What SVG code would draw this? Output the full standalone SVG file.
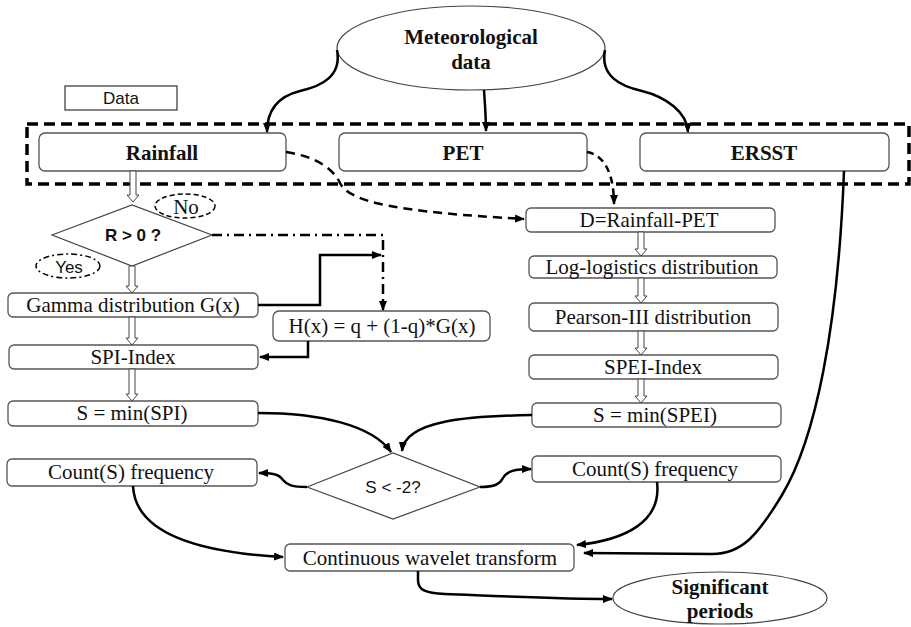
<svg xmlns="http://www.w3.org/2000/svg" width="911" height="627" viewBox="0 0 911 627">
<style>
.box{fill:#fff;stroke:#555;stroke-width:1.3}
.t{font-family:"Liberation Serif","Times New Roman",serif;font-size:21px;fill:#111;text-anchor:middle}
.tb{font-family:"Liberation Serif","Times New Roman",serif;font-size:21px;font-weight:bold;fill:#111;text-anchor:middle}
.ts{font-family:"Liberation Sans",Arial,sans-serif;font-size:17px;fill:#111;text-anchor:middle}
.c{fill:none;stroke:#000;stroke-width:2.5}
.ha{fill:#fff;stroke:#444;stroke-width:1}
.dia{fill:#fff;stroke:#444;stroke-width:1.2}
</style>
<defs>
<marker id="ah" markerUnits="userSpaceOnUse" markerWidth="10" markerHeight="8" refX="9" refY="4" orient="auto">
<path d="M0,0 L10,4 L0,8 z" fill="#000"/>
</marker>
</defs>
<rect width="911" height="627" fill="#fff"/>

<g id="data-label">
<rect x="65" y="86" width="112" height="24" fill="#fff" stroke="#333" stroke-width="1.2"/>
<text class="ts" x="121" y="104">Data</text>
</g>
<g id="data-group">
<rect x="27" y="124" width="882" height="60" fill="none" stroke="#000" stroke-width="3.5" stroke-dasharray="11,6"/>
</g>

<g id="meteo">
<ellipse cx="471" cy="48" rx="134" ry="42" fill="#fff" stroke="#444" stroke-width="1.2"/>
<text class="tb" x="471" y="44">Meteorological</text>
<text class="tb" x="471" y="69">data</text>
</g>
<g id="rainfall">
<rect class="box" x="39" y="133" width="247" height="38" rx="6"/>
<text class="tb" x="162" y="160">Rainfall</text>
</g>
<g id="pet">
<rect class="box" x="339" y="133" width="248" height="38" rx="6"/>
<text class="tb" x="463" y="160">PET</text>
</g>
<g id="ersst">
<rect class="box" x="640" y="133" width="249" height="38" rx="6"/>
<text class="tb" x="764" y="160">ERSST</text>
</g>

<g id="r-gt-0">
<polygon class="dia" points="52,235 132,205 212,235 132,266"/>
<text class="ts" x="133" y="241" font-weight="bold">R &gt; 0 ?</text>
</g>
<g id="no-label">
<ellipse cx="185" cy="206" rx="30" ry="12" fill="#fff" stroke="#000" stroke-width="1.5" stroke-dasharray="5,3"/>
<text class="t" x="186" y="214" font-size="20">No</text>
</g>
<g id="yes-label">
<ellipse cx="68" cy="266" rx="32" ry="12" fill="#fff" stroke="#000" stroke-width="1.5" stroke-dasharray="6,3,2,3"/>
<text class="ts" x="69" y="273" font-size="16">Yes</text>
</g>

<g id="gamma">
<rect class="box" x="8" y="293" width="250" height="24" rx="5"/>
<text class="t" x="133" y="312">Gamma distribution G(x)</text>
</g>
<g id="hx">
<rect class="box" x="273" y="311" width="217" height="30" rx="6"/>
<text class="t" x="382" y="333">H(x) = q + (1-q)*G(x)</text>
</g>
<g id="spi">
<rect class="box" x="9" y="345" width="249" height="24" rx="5"/>
<text class="t" x="133" y="364">SPI-Index</text>
</g>
<g id="smin-spi">
<rect class="box" x="8" y="401" width="250" height="25" rx="5"/>
<text class="t" x="132" y="420">S = min(SPI)</text>
</g>
<g id="count-left">
<rect class="box" x="7" y="459" width="250" height="27" rx="5"/>
<text class="t" x="131" y="479">Count(S) frequency</text>
</g>

<g id="d-box">
<rect class="box" x="526" y="208" width="249" height="24" rx="5"/>
<text class="t" x="649" y="227">D=Rainfall-PET</text>
</g>
<g id="loglogistic">
<rect class="box" x="529" y="256" width="248" height="22" rx="5"/>
<text class="t" x="652" y="274">Log-logistics distribution</text>
</g>
<g id="pearson">
<rect class="box" x="529" y="303" width="249" height="28" rx="5"/>
<text class="t" x="653" y="324">Pearson-III distribution</text>
</g>
<g id="spei">
<rect class="box" x="529" y="355" width="249" height="24" rx="5"/>
<text class="t" x="653" y="374">SPEI-Index</text>
</g>
<g id="smin-spei">
<rect class="box" x="532" y="403" width="249" height="24" rx="5"/>
<text class="t" x="655" y="422">S = min(SPEI)</text>
</g>
<g id="count-right">
<rect class="box" x="532" y="456" width="249" height="26" rx="5"/>
<text class="t" x="655" y="476">Count(S) frequency</text>
</g>

<g id="s-lt-2">
<polygon class="dia" points="307,487 393,453 480,487 393,519"/>
<text class="ts" x="393" y="493">S &lt; -2?</text>
</g>
<g id="cwt">
<rect class="box" x="285" y="544" width="289" height="27" rx="5"/>
<text class="t" x="430" y="565">Continuous wavelet transform</text>
</g>
<g id="significant">
<ellipse cx="720" cy="598" rx="107" ry="26" fill="#fff" stroke="#444" stroke-width="1.2"/>
<text class="tb" x="720" y="594">Significant</text>
<text class="tb" x="720" y="618">periods</text>
</g>

<g id="connectors">
<!-- from meteorological data -->
<path class="c" d="M337,50 C342,76 322,86 300,91 C276,97 267,112 267,132" marker-end="url(#ah)"/>
<path class="c" d="M484,90 C485,105 486,118 486,131" marker-end="url(#ah)"/>
<path class="c" d="M605,50 C600,76 620,86 642,91 C666,97 687,112 688,132" marker-end="url(#ah)"/>
<!-- dashed to D -->
<path class="c" d="M286,152 C318,157 334,170 340,183 C350,203 400,212 524,219" stroke-dasharray="9,6" marker-end="url(#ah)"/>
<path class="c" d="M587,152 C605,155 614,175 614,204" stroke-dasharray="7,5" marker-end="url(#ah)"/>
<!-- hollow arrows left -->
<polygon class="ha" points="130,171 136,171 136,195 139,195 133,202 127,195 130,195"/>
<polygon class="ha" points="129,266 135,266 135,286 138,286 132,293 126,286 129,286"/>
<polygon class="ha" points="129,317 135,317 135,338 138,338 132,345 126,338 129,338"/>
<polygon class="ha" points="129,369 135,369 135,394 138,394 132,401 126,394 129,394"/>
<!-- hollow arrows right -->
<polygon class="ha" points="638,232 644,232 644,249 647,249 641,256 635,249 638,249"/>
<polygon class="ha" points="638,278 644,278 644,296 647,296 641,303 635,296 638,296"/>
<polygon class="ha" points="638,331 644,331 644,348 647,348 641,355 635,348 638,348"/>
<polygon class="ha" points="638,379 644,379 644,396 647,396 641,403 635,396 638,396"/>
<!-- No branch: dash-dot -->
<path class="c" d="M212,235 L383,235 L383,310" stroke-dasharray="10,5,2,5" marker-end="url(#ah)"/>
<!-- Gamma to H -->
<path class="c" d="M258,305 L320,305 L320,255 L381,255" marker-end="url(#ah)"/>
<!-- H to SPI -->
<path class="c" d="M308,341 L308,357 L260,357" marker-end="url(#ah)"/>
<!-- S min to diamond -->
<path class="c" d="M258,413 C320,413 372,425 391,452" marker-end="url(#ah)"/>
<path class="c" d="M532,415 C470,416 405,420 402,451" marker-end="url(#ah)"/>
<!-- diamond to counts -->
<path class="c" d="M307,487 C292,487 287,485 283,480 C279,474 272,473 259,473" marker-end="url(#ah)"/>
<path class="c" d="M480,487 C495,487 500,484 503,478 C507,471 515,469 531,469" marker-end="url(#ah)"/>
<!-- counts to CWT -->
<path class="c" d="M133,486 C135,530 190,552 283,557" marker-end="url(#ah)"/>
<path class="c" d="M657,482 C662,522 625,540 577,545" marker-end="url(#ah)"/>
<!-- ERSST to CWT -->
<path class="c" d="M844,171 C838,330 815,440 782,495 C758,535 742,554 712,554 L584,553" marker-end="url(#ah)"/>
<!-- CWT to significant -->
<path class="c" d="M418,571 L418,580 C418,590 425,593 445,594 C520,597 560,599 612,599" marker-end="url(#ah)"/>
</g>
</svg>
